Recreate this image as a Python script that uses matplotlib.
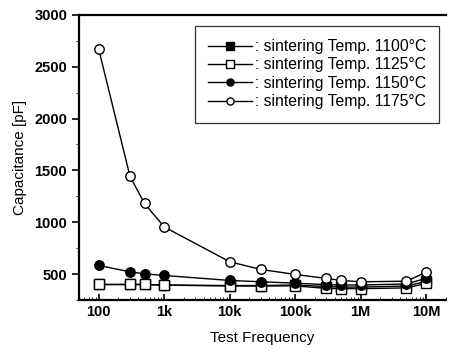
import matplotlib
matplotlib.use("Agg")
import matplotlib.pyplot as plt
from matplotlib.ticker import FixedLocator, LogLocator, MultipleLocator, NullFormatter

plt.rcParams["font.family"] = ["Liberation Sans", "DejaVu Sans"]

freq = [100, 300, 500, 1e3, 1e4, 3e4, 1e5, 3e5, 5e5, 1e6, 5e6, 1e7]
cap_1100 = [400, 400, 400, 395, 390, 390, 395, 380, 375, 375, 385, 430]
cap_1125 = [400, 400, 400, 394, 385, 385, 387, 362, 360, 360, 367, 410]
cap_1150 = [584, 522, 503, 487, 439, 426, 413, 398, 395, 395, 405, 460]
cap_1175 = [2668, 1443, 1181, 955, 619, 545, 497, 458, 439, 426, 432, 519]

labels = [
    ": sintering Temp. 1100\u00b0C",
    ": sintering Temp. 1125\u00b0C",
    ": sintering Temp. 1150\u00b0C",
    ": sintering Temp. 1175\u00b0C",
]
x_ticks = [100, 1e3, 1e4, 1e5, 1e6, 1e7]
x_ticklabels = ["100", "1k", "10k", "100k", "1M", "10M"]

fig = plt.figure(figsize=(4.49, 3.53), dpi=100)
ax = fig.add_axes([0.176, 0.150, 0.817, 0.808])

styles = [
    dict(marker="s", mfc="black", mec="black"),
    dict(marker="s", mfc="white", mec="black"),
    dict(marker="o", mfc="black", mec="black"),
    dict(marker="o", mfc="white", mec="black"),
]
for ys, lab, st in zip([cap_1100, cap_1125, cap_1150, cap_1175], labels, styles):
    ax.plot(freq, ys, color="black", lw=1.0, ms=6.8, mew=1.0, label=lab, **st)

ax.set_xscale("log")
ax.set_xlim(50, 2e7)
ax.set_ylim(250, 3000)
ax.xaxis.set_major_locator(FixedLocator(x_ticks))
ax.set_xticklabels(x_ticklabels)
ax.xaxis.set_minor_locator(LogLocator(base=10, subs=range(2, 10), numticks=20))
ax.xaxis.set_minor_formatter(NullFormatter())
ax.yaxis.set_major_locator(MultipleLocator(500))
ax.yaxis.set_minor_locator(MultipleLocator(250))

ax.spines["right"].set_visible(False)
for s in ["left", "bottom", "top"]:
    ax.spines[s].set_linewidth(1.6)
ax.tick_params(axis="both", which="major", labelsize=10.5, width=1.2)
for t in ax.get_xticklabels() + ax.get_yticklabels():
    t.set_fontweight("bold")
ax.tick_params(axis="x", which="both", direction="in", top=False)
ax.tick_params(axis="x", which="major", length=4)
ax.tick_params(axis="x", which="minor", length=2.5)
ax.tick_params(axis="y", which="both", direction="out", right=False)
ax.tick_params(axis="y", which="major", length=5)
ax.tick_params(axis="y", which="minor", length=2.5)

ax.set_xlabel("Test Frequency", fontsize=11, labelpad=9)
ax.set_ylabel("Capacitance [pF]", fontsize=11, labelpad=5)

leg = ax.legend(
    loc="upper left", bbox_to_anchor=(0.316, 0.962), fontsize=11.3, frameon=True,
    fancybox=False, edgecolor="black", handlelength=2.8, handletextpad=0.15,
    labelspacing=0.22, borderpad=0.85, borderaxespad=0.0, markerscale=0.75,
)
leg.get_frame().set_linewidth(0.9)

fig.savefig("out.png", dpi=100)
